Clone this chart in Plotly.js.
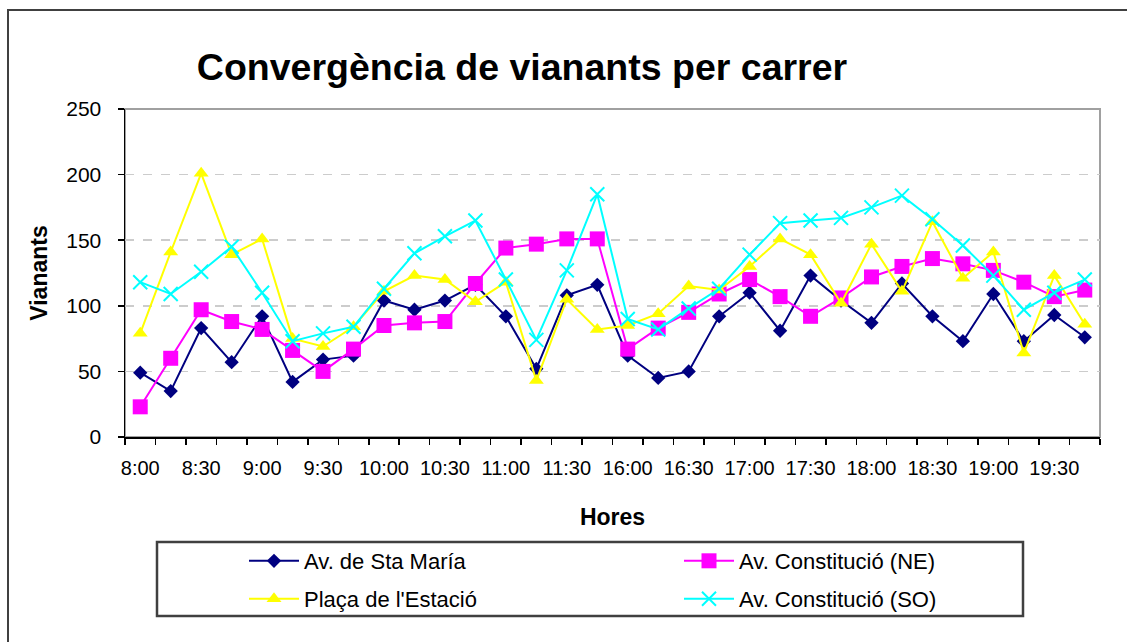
<!DOCTYPE html>
<html>
<head>
<meta charset="utf-8">
<script src="https://cdn.plot.ly/plotly-3.0.1.min.js"></script>
<style>
  html, body { margin: 0; padding: 0; background: #ffffff; }
  #chart { width: 1127px; height: 642px; }
</style>
</head>
<body>
<div id="chart"></div>
<script>
// ---- Data ----
const times = ["8:00","8:15","8:30","8:45","9:00","9:15","9:30","9:45",
               "10:00","10:15","10:30","10:45","11:00","11:15","11:30","11:45",
               "16:00","16:15","16:30","16:45","17:00","17:15","17:30","17:45",
               "18:00","18:15","18:30","18:45","19:00","19:15","19:30","19:45"];
const tickLabels = ["8:00","8:30","9:00","9:30","10:00","10:30","11:00","11:30",
                    "16:00","16:30","17:00","17:30","18:00","18:30","19:00","19:30"];

const seriesNames = ["Av. de Sta María", "Av. Constitució (NE)", "Plaça de l'Estació", "Av. Constitució (SO)"];

const staMaria = [49, 35, 83, 57, 92, 42, 59, 62, 104, 97, 104, 116, 92, 52, 108, 116,
                  62, 45, 50, 92, 110, 81, 123, 104, 87, 117, 92, 73, 109, 73, 93, 76];
const constitucioNE = [23, 60, 97, 88, 82, 66, 50, 67, 85, 87, 88, 117, 144, 147, 151, 151,
                       67, 83, 95, 109, 120, 107, 92, 106, 122, 130, 136, 132, 127, 118, 107, 112];
const placaEstacio = [79, 141, 201, 139, 151, 75, 69, 84, 111, 123, 120, 103, 118, 43, 105, 82,
                      85, 94, 115, 112, 130, 151, 139, 102, 147, 111, 164, 121, 141, 64, 123, 86];
const constitucioSO = [118, 109, 126, 145, 110, 73, 79, 84, 113, 140, 153, 165, 120, 74, 127, 185,
                       90, 82, 98, 113, 139, 163, 165, 167, 175, 184, 166, 146, 123, 97, 110, 120];

// ---- Styles ----
const FONT = "Liberation Sans, Arial, sans-serif";
const styles = [
  {color: "#000080", symbol: "diamond", size: 11, legend: "legend"},
  {color: "#ff00ff", symbol: "square", size: 15, legend: "legend"},
  {color: "#ffff00", symbol: "triangle-up", size: 13, legend: "legend2"},
  {color: "#00ffff", symbol: "x-thin", size: 14, legend: "legend2"}
];
const allSeries = [staMaria, constitucioNE, placaEstacio, constitucioSO];

const traces = allSeries.map((vals, k) => {
  const s = styles[k];
  const marker = {symbol: s.symbol, size: s.size, color: s.color};
  if (s.symbol === "x-thin") marker.line = {color: s.color, width: 2};
  else marker.line = {width: 0};
  return {
    type: "scatter", mode: "lines+markers",
    x: times, y: vals, name: seriesNames[k],
    line: {color: s.color, width: 2},
    marker: marker,
    legend: s.legend,
    cliponaxis: false
  };
});

// tick text: label only where a label exists
const tickText = times.map(t => tickLabels.includes(t) ? t : "");

// plot area geometry (px) for converting shapes
const L = 125, R = 1100, T = 109, B = 437;
const W = R - L, H = B - T;
const px = x => (x - L) / W;
const py = y => (B - y) / H;

const legendCommon = {
  orientation: "h",
  bgcolor: "rgba(0,0,0,0)",
  borderwidth: 0,
  font: {family: FONT, size: 22, color: "#000000"},
  itemwidth: 50,
  entrywidth: 370,
  entrywidthmode: "pixels",
  xanchor: "left",
  yanchor: "middle",
  itemclick: false
};

const layout = {
  width: 1127, height: 642,
  margin: {l: L, r: 1127 - R, t: T, b: 642 - B, pad: 0},
  paper_bgcolor: "#ffffff",
  plot_bgcolor: "#ffffff",
  showlegend: true,
  font: {family: FONT, color: "#000000"},
  title: {
    text: "Convergència de vianants per carrer",
    font: {family: FONT, size: 37.5, weight: 700, color: "#000000"},
    x: 522 / 1127, xref: "container", xanchor: "center",
    y: 1 - 67 / 642, yref: "container", yanchor: "middle"
  },
  xaxis: {
    type: "category",
    tickmode: "array",
    tickvals: times,
    ticktext: tickText,
    tickson: "boundaries",
    ticks: "outside", ticklen: 6, tickwidth: 1.5, tickcolor: "#000000",
    showline: true, linecolor: "#000000", linewidth: 1.5,
    showgrid: false, zeroline: false,
    tickangle: 0,
    tickfont: {family: FONT, size: 20, color: "#000000"},
    ticklabelstandoff: 12,
    title: {text: "Hores", font: {family: FONT, size: 23, weight: 700, color: "#000000"}, standoff: 31},
    range: [-0.5, times.length - 0.5],
    fixedrange: true
  },
  yaxis: {
    range: [0, 250], dtick: 50, tick0: 0,
    ticks: "outside", ticklen: 6, tickwidth: 1.5, tickcolor: "#000000",
    showline: true, linecolor: "#000000", linewidth: 1.5,
    showgrid: true, gridcolor: "#cccccc", griddash: "dash", gridwidth: 1.5,
    zeroline: false,
    tickfont: {family: FONT, size: 21, color: "#000000"},
    ticklabelstandoff: 12,
    title: {text: "Vianants", font: {family: FONT, size: 23, weight: 700, color: "#000000"}, standoff: 12},
    fixedrange: true
  },
  legend: Object.assign({}, legendCommon, {x: px(244), y: py(561)}),
  legend2: Object.assign({}, legendCommon, {x: px(244), y: py(599)}),
  shapes: [
    // plot area border (grey)
    {type: "rect", xref: "paper", yref: "paper", x0: 0, x1: 1, y0: 0, y1: 1,
     line: {color: "#a0a0a0", width: 2}, layer: "below"},
    // legend box
    {type: "rect", xref: "paper", yref: "paper", x0: px(157), x1: px(1023), y0: py(616), y1: py(542),
     line: {color: "#404040", width: 2.5}},
    // outer chart frame
    {type: "rect", xref: "paper", yref: "paper", x0: px(8), x1: px(1140), y0: py(660), y1: py(10),
     line: {color: "#404040", width: 2}}
  ]
};

Plotly.newPlot("chart", traces, layout, {displayModeBar: false, staticPlot: true});
</script>
</body>
</html>
